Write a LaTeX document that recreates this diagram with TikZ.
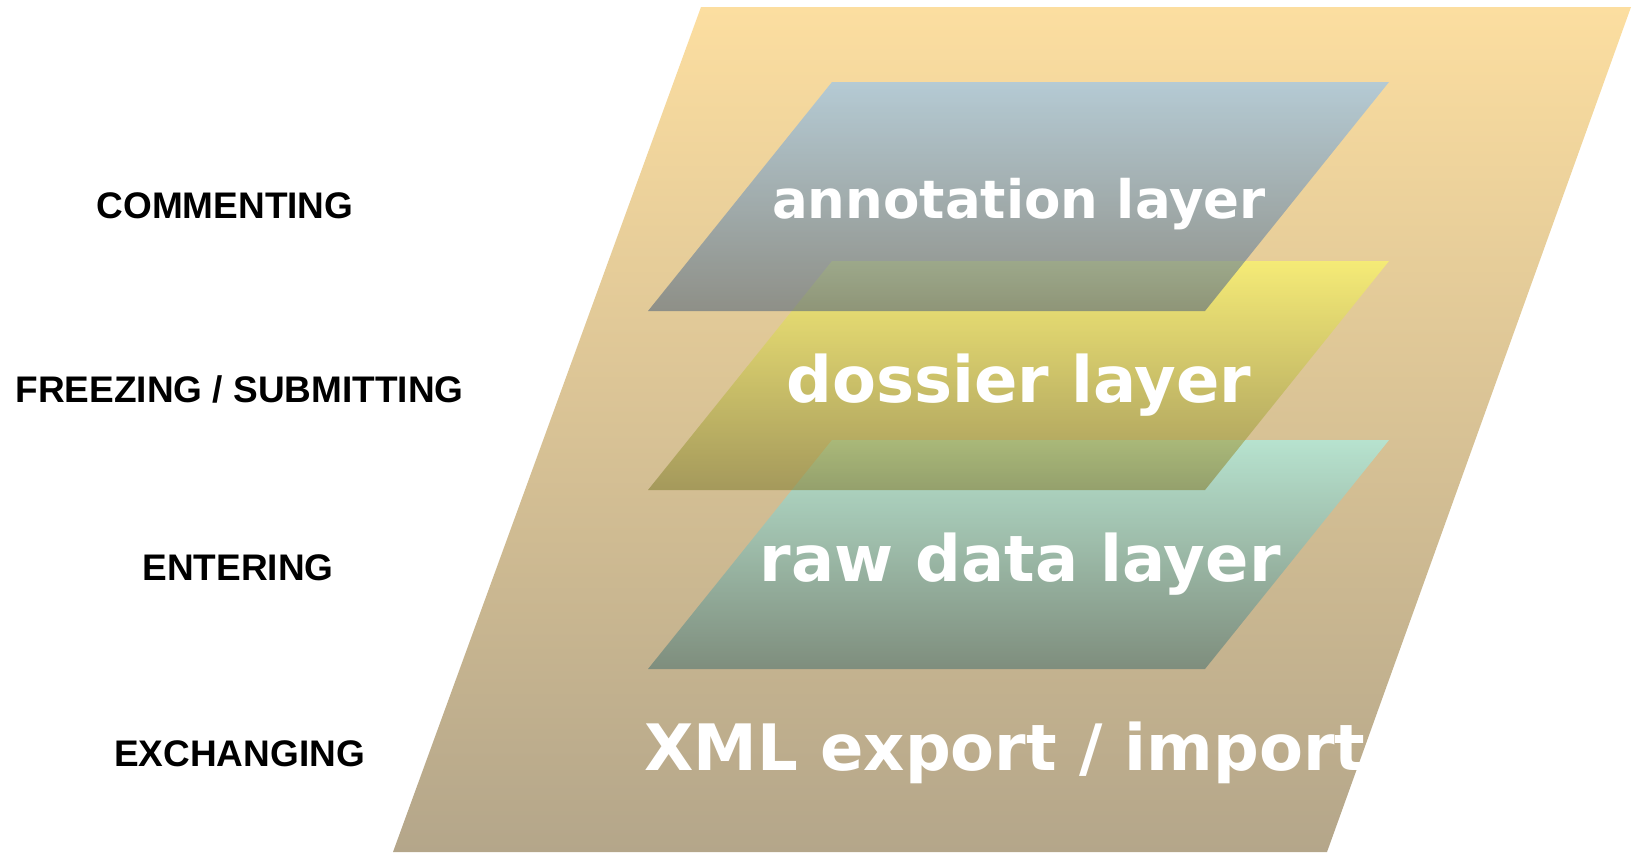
\documentclass[tikz,border=0pt]{standalone}
\usepackage{fontspec}
\setmainfont{Liberation Sans}
\newfontfamily\layerfont{DejaVu Sans}
\definecolor{baseTop}{HTML}{FCDEA0}
\definecolor{baseMiddle}{HTML}{E2CA9A}
\definecolor{baseBottom}{HTML}{B4A68A}
\definecolor{annotTop}{HTML}{8AC1F8}
\definecolor{annotBottom}{HTML}{57697D}
\definecolor{dossierTop}{HTML}{FFFF60}
\definecolor{dossierBottom}{HTML}{868137}
\definecolor{rawTop}{HTML}{A2F9F6}
\definecolor{rawBottom}{HTML}{517672}
\begin{document}
\begin{tikzpicture}[
    x=0.5pt, y=-0.5pt,
    layerfill/.style={fill opacity=0.6},
    layertext/.style={anchor=base, inner sep=0pt, text=white, font=\layerfont\bfseries\fontsize{32}{36}\selectfont},
    phaselabel/.style={anchor=base, inner sep=0pt, font=\bfseries\fontsize{18.5}{22}\selectfont}
]
    \clip (0,0) rectangle (1633,852);

    % Base plane
    \shade[top color=baseTop, middle color=baseMiddle, bottom color=baseBottom] (701,7) -- (1631,7) -- (1327,852) -- (393,852) -- cycle;

    % Layers
    \shade[layerfill, top color=rawTop, bottom color=rawBottom] (832,440) -- (1389,440) -- (1205,669) -- (648,669) -- cycle;
    \shade[layerfill, top color=dossierTop, bottom color=dossierBottom] (832,261) -- (1389,261) -- (1205,490) -- (648,490) -- cycle;
    \shade[layerfill, top color=annotTop, bottom color=annotBottom] (832,82) -- (1389,82) -- (1205,311) -- (648,311) -- cycle;

    % Layer names
    \node[layertext, font=\layerfont\bfseries\fontsize{26.5}{30}\selectfont] (annotation) at (1019,218) {annotation layer};
    \node[layertext] (dossier) at (1019,402) {dossier layer};
    \node[layertext] (rawdata) at (1020,581) {raw data layer};
    \begin{scope}
        \clip (701,7) -- (1631,7) -- (1327,852) -- (393,852) -- cycle;
        \node[layertext, anchor=base west] (xml) at (644,770) {XML export / import};
    \end{scope}

    % Phases
    \node[phaselabel] (commenting) at (225,218) {COMMENTING};
    \node[phaselabel] (freezing) at (239.5,402) {FREEZING / SUBMITTING};
    \node[phaselabel] (entering) at (238,580) {ENTERING};
    \node[phaselabel] (exchanging) at (239.5,766) {EXCHANGING};

\end{tikzpicture}
\end{document}
